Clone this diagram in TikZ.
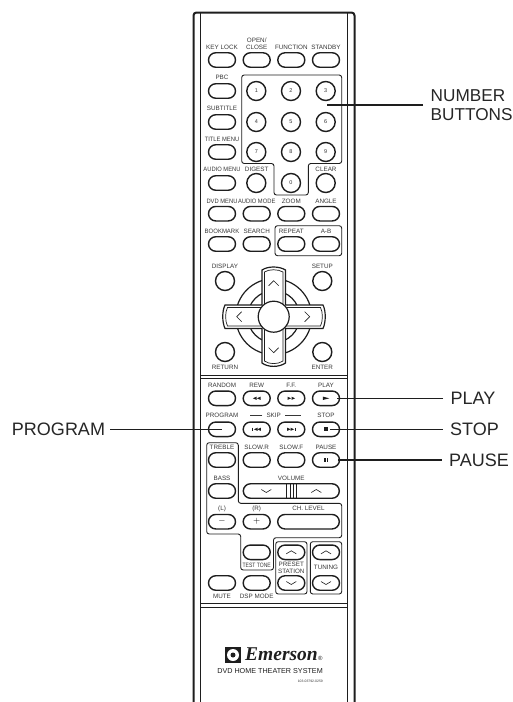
\documentclass[tikz,border=0pt]{standalone}
\usepackage{fontspec}
\setmainfont{Liberation Sans}
\newfontfamily\logofont{Liberation Serif}
\usetikzlibrary{shapes.misc}
\definecolor{InkBody}{RGB}{30,30,30}
\definecolor{InkText}{RGB}{55,55,55}
\newcommand{\trir}[1]{\fill[InkBody] (#1) ++(-1.8,-1.6) -- ++(3.6,1.6) -- ++(-3.6,1.6) -- cycle;}
\newcommand{\tril}[1]{\fill[InkBody] (#1) ++(1.8,-1.6) -- ++(-3.6,1.6) -- ++(3.6,1.6) -- cycle;}

\begin{document}
\begin{tikzpicture}[x=1pt,y=-1pt,
        btn/.style={draw=InkBody, line width=1.4pt, rounded rectangle, minimum width=27pt, minimum height=14.5pt, inner sep=0pt, font=\bfseries\fontsize{9}{9}\selectfont},
        wide/.style={btn, minimum width=#1},
        rnd/.style={draw=InkBody, line width=1.4pt, circle, minimum size=19pt, inner sep=0pt, text=InkText, font=\fontsize{5.5}{6}\selectfont},
        lbl/.style={inner sep=0pt, align=center, text=InkText, font=\fontsize{6.3}{7}\selectfont},
        callout/.style={inner ysep=0pt, inner xsep=7.5pt, anchor=west, align=left, text=black!85, font=\fontsize{18}{19}\selectfont},
        lead/.style={line width=1.25pt, InkBody},
        grp/.style={draw=InkBody, line width=0.9pt, rounded corners=2.5pt},
        chev/.style={line width=0.6pt, InkBody}
    ]
    \useasboundingbox (0,0) rectangle (512,702);
    \fill[white] (0,0) rectangle (512,702);

    % case
    \draw[line width=2pt, InkBody, rounded corners=3pt] (193.5,702) -- (193.5,12.5) -- (354.5,12.5) -- (354.5,702);
    \draw[line width=1.2pt, InkBody, rounded corners=2pt] (200.5,702) -- (200.5,12.5);
    \draw[line width=1.2pt, InkBody, rounded corners=2pt] (347.5,702) -- (347.5,12.5);
    \draw[line width=1pt, InkBody] (200.5,375) -- (347.5,375) (200.5,378.5) -- (347.5,378.5);
    \draw[line width=1pt, InkBody] (200.5,603.5) -- (347.5,603.5) (200.5,607) -- (347.5,607);

    % groups
    \draw[grp] (241.7,75) -- (341.7,75) -- (341.7,163.5) -- (308.3,163.5) -- (308.3,195) -- (274,195) -- (274,163.5) -- (241.7,163.5) -- cycle;
    \draw[grp] (275,225.7) rectangle (341.7,255.7);
    \draw[grp] (206.7,442.7) -- (238.3,442.7) -- (238.3,503.3) -- (341.7,503.3) -- (341.7,537.7) -- (273.5,537.7) -- (273.5,570) -- (240.7,570) -- (240.7,534) -- (206.7,534) -- cycle;
    \draw[grp] (275.7,541.7) rectangle (307,594);
    \draw[grp] (310.3,541.7) rectangle (341.7,594);

    % top block
    \node[btn] (keylock) at (222,60) {};
    \node[btn] (openclose) at (256.7,60) {};
    \node[btn] (function) at (291.3,60) {};
    \node[btn] (standby) at (326,60) {};
    \node[btn] (pbc) at (222,91) {};
    \node[btn] (subtitle) at (222,122) {};
    \node[btn] (titlemenu) at (222,152) {};
    \node[btn] (audiomenu) at (222,183) {};
    \node[btn] (dvdmenu) at (222,213.7) {};
    \node[btn] (audiomode) at (256.7,213.7) {};
    \node[btn] (zoom) at (291.3,213.7) {};
    \node[btn] (angle) at (326,213.7) {};
    \node[btn] (bookmark) at (222,244) {};
    \node[btn] (search) at (256.7,244) {};
    \node[btn] (repeat) at (291.3,244) {};
    \node[btn] (ab) at (326,244) {};

    \node[rnd] (num1) at (256.3,91) {1};
    \node[rnd] (num2) at (291,91) {2};
    \node[rnd] (num3) at (325.7,91) {3};
    \node[rnd] (num4) at (256.3,122) {4};
    \node[rnd] (num5) at (291,122) {5};
    \node[rnd] (num6) at (325.7,122) {6};
    \node[rnd] (num7) at (256.3,152) {7};
    \node[rnd] (num8) at (291,152) {8};
    \node[rnd] (num9) at (325.7,152) {9};
    \node[rnd] (num0) at (291,183) {0};
    \node[rnd] (digest) at (256.3,183) {};
    \node[rnd] (clear) at (325.7,183) {};

    \node[lbl] (tkeylock) at (222,47) {KEY LOCK};
    \node[lbl, anchor=south] (topen) at (256.7,49.7) {OPEN/\\CLOSE};
    \node[lbl] (tfunction) at (291.3,47) {FUNCTION};
    \node[lbl] (tstandby) at (326,47) {STANDBY};
    \node[lbl] (tpbc) at (222,77.7) {PBC};
    \node[lbl] (tsubtitle) at (222,108.3) {SUBTITLE};
    \node[lbl, xscale=0.92] (ttitle) at (222,139.3) {TITLE MENU};
    \node[lbl, xscale=0.92] (taudiomenu) at (222,169) {AUDIO MENU};
    \node[lbl] (tdigest) at (256.7,169) {DIGEST};
    \node[lbl] (tclear) at (326,169) {CLEAR};
    \node[lbl, xscale=0.92] (tdvd) at (222,201) {DVD MENU};
    \node[lbl, xscale=0.92] (taudiomode) at (256.7,201) {AUDIO MODE};
    \node[lbl] (tzoom) at (291.3,201) {ZOOM};
    \node[lbl] (tangle) at (326,201) {ANGLE};
    \node[lbl, xscale=0.95] (tbookmark) at (222,231.3) {BOOKMARK};
    \node[lbl] (tsearch) at (256.7,231.3) {SEARCH};
    \node[lbl] (trepeat) at (291.3,231.3) {REPEAT};
    \node[lbl] (tab) at (326,231.3) {A-B};

    % cursor pad
    \node[rnd] (display) at (225,281) {};
    \node[rnd] (setup) at (322.3,281) {};
    \node[rnd] (return) at (225,352) {};
    \node[rnd] (enter) at (322.3,352) {};
    \node[lbl] (tdisplay) at (225,266.3) {DISPLAY};
    \node[lbl] (tsetup) at (322.3,266.3) {SETUP};
    \node[lbl] (treturn) at (225,367.3) {RETURN};
    \node[lbl] (tenter) at (322.3,367.3) {ENTER};

    \coordinate (hub) at (273.7,316.7);
    \draw[line width=1.2pt, InkBody] (hub) circle (38);
    \draw[line width=1.2pt, InkBody] (hub) circle (26);
    \path[fill=white, draw=InkBody, line width=1.2pt] (262,270) .. controls (268,266) and (279,266) .. (285.5,270) -- (285.5,305) -- (323,305) .. controls (326,311) and (326,322) .. (323,328.5) -- (285.5,328.5) -- (285.5,363) .. controls (279,367.5) and (268,367.5) .. (262,363) -- (262,328.5) -- (225,328.5) .. controls (222,322) and (222,311) .. (225,305) -- (262,305) -- cycle;
    \draw[line width=0.7pt, InkBody] (264.5,272) .. controls (269,269) and (278,269) .. (283,272) -- (283,307.5) -- (320.5,307.5) .. controls (323,312) and (323,321) .. (320.5,326) -- (283,326) -- (283,361) .. controls (278,364.5) and (269,364.5) .. (264.5,361) -- (264.5,326) -- (227.5,326) .. controls (225,321) and (225,312) .. (227.5,307.5) -- (264.5,307.5) -- cycle;
    \node[circle, fill=white, draw=InkBody, line width=1.2pt, minimum size=31pt, inner sep=0pt] (centre) at (hub) {};
    \draw[chev] (hub) ++(-5,-31) -- ++(5,-5) -- ++(5,5);
    \draw[chev] (hub) ++(-5,31) -- ++(5,5) -- ++(5,-5);
    \draw[chev] (hub) ++(-32,-5) -- ++(-5,5) -- ++(5,5);
    \draw[chev] (hub) ++(31,-5) -- ++(5,5) -- ++(-5,5);

    % transport block
    \node[btn] (random) at (222,398.3) {};
    \node[btn] (rew) at (256.7,398.3) {};
    \node[btn] (ff) at (291.3,398.3) {};
    \node[btn] (play) at (326,398.3) {};
    \node[btn] (program) at (222,429.3) {};
    \node[btn] (skipb) at (256.7,429.3) {};
    \node[btn] (skipf) at (291.3,429.3) {};
    \node[btn] (stop) at (326,429.3) {};
    \node[btn] (treble) at (222,460) {};
    \node[btn] (slowr) at (256.7,460) {};
    \node[btn] (slowf) at (291.3,460) {};
    \node[btn] (pause) at (326,460) {};
    \node[btn] (bass) at (222,491) {};
    \node[wide=96pt] (volume) at (291.3,491) {};
    \node[btn] (minus) at (222,521.7) {$-$};
    \node[btn] (plus) at (256.7,521.7) {$+$};
    \node[wide=61.6pt] (chlevel) at (308.5,521.7) {};
    \node[btn] (testtone) at (256.7,552.3) {};
    \node[btn] (presetup) at (291.3,552.3) {};
    \node[btn] (presetdn) at (291.3,583) {};
    \node[btn] (tuneup) at (326,552.3) {};
    \node[btn] (tunedn) at (326,583) {};
    \node[btn] (mute) at (222,583) {};
    \node[btn] (dspmode) at (256.7,583) {};

    \node[lbl] (trandom) at (222,385) {RANDOM};
    \node[lbl] (trew) at (256.7,385) {REW};
    \node[lbl] (tff) at (291.3,385) {F.F.};
    \node[lbl] (tplay) at (326,385) {PLAY};
    \node[lbl] (tprogram) at (222,415.7) {PROGRAM};
    \node[lbl] (tskip) at (273.7,415.7) {SKIP};
    \node[lbl] (tstop) at (326,415.7) {STOP};
    \node[lbl] (ttreble) at (222,447.3) {TREBLE};
    \node[lbl] (tslowr) at (256.7,447.3) {SLOW.R};
    \node[lbl] (tslowf) at (291.3,447.3) {SLOW.F};
    \node[lbl] (tpause) at (326,447.3) {PAUSE};
    \node[lbl] (tbass) at (222,478) {BASS};
    \node[lbl] (tvolume) at (291.3,478) {VOLUME};
    \node[lbl] (tl) at (222,508.7) {(L)};
    \node[lbl] (tr) at (256.7,508.7) {(R)};
    \node[lbl] (tchlevel) at (308.5,508.7) {CH. LEVEL};
    \node[lbl, xscale=0.8] (ttest) at (256.7,565.3) {TEST TONE};
    \node[lbl, font=\fontsize{6.3}{6.9}\selectfont] (tpreset) at (291.3,567.5) {PRESET\\STATION};
    \node[lbl] (ttuning) at (326,567.7) {TUNING};
    \node[lbl] (tmute) at (222,596) {MUTE};
    \node[lbl] (tdsp) at (256.7,596) {DSP MODE};

    \draw[line width=0.6pt, InkText] (tskip.west) ++(-4,0) -- ++(-12,0);
    \draw[line width=0.6pt, InkText] (tskip.east) ++(4,0) -- ++(16,0);

    % glyphs
    \tril{[xshift=-2pt]rew.center} \tril{[xshift=2pt]rew.center}
    \trir{[xshift=-2pt]ff.center} \trir{[xshift=2pt]ff.center}
    \fill[InkBody] (play.center) ++(-3.2,-1.7) -- ++(6.5,1.7) -- ++(-6.5,1.7) -- cycle;
    \tril{[xshift=-1pt]skipb.center} \tril{[xshift=2.4pt]skipb.center}
    \trir{[xshift=-2.4pt]skipf.center} \trir{[xshift=1pt]skipf.center}
    \draw[line width=0.7pt, InkBody] (skipb.center) ++(-4.4,-1.6) -- ++(0,3.2);
    \draw[line width=0.7pt, InkBody] (skipf.center) ++(4.4,-1.6) -- ++(0,3.2);
    \fill[InkBody] (stop.center) ++(-2,-2) rectangle ++(4,4);
    \fill[InkBody] (pause.center) ++(-2.4,-2) rectangle ++(1.9,4);
    \fill[InkBody] (pause.center) ++(0.5,-2) rectangle ++(1.9,4);
    \draw[chev] (presetup.center) ++(-5,1.5) -- ++(5,-3) -- ++(5,3);
    \draw[chev] (tuneup.center) ++(-5,1.5) -- ++(5,-3) -- ++(5,3);
    \draw[chev] (presetdn.center) ++(-5,-1.5) -- ++(5,3) -- ++(5,-3);
    \draw[chev] (tunedn.center) ++(-5,-1.5) -- ++(5,3) -- ++(5,-3);
    \draw[chev] (volume.center) ++(-30,-1.5) -- ++(5,3) -- ++(5,-3);
    \draw[chev] (volume.center) ++(20,1.5) -- ++(5,-3) -- ++(5,3);
    \draw[line width=1pt, InkBody] (286.7,483.5) -- (286.7,498.5) (290.7,483.5) -- (290.7,498.5) (293.3,483.5) -- (293.3,498.5) (296,483.5) -- (296,498.5);

    % brand
    \node[fill=InkBody, minimum size=16pt, inner sep=0pt] (logo) at (233,655) {};
    \node[circle, fill=white, minimum size=12pt, inner sep=0pt] (logoring) at (logo) {};
    \node[circle, fill=InkBody, minimum size=5pt, inner sep=0pt] (logodot) at (logo) {};
    \node[inner sep=0pt, anchor=west, text=InkBody, font=\logofont\bfseries\itshape\fontsize{19.5}{20}\selectfont] (brand) at (245,654.5) {Emerson};
    \node[inner sep=0pt, anchor=west, text=InkBody, font=\fontsize{6}{6}\selectfont] (regmark) at (318,658) {\textregistered};
    \node[inner sep=0pt, anchor=east, text=InkBody, font=\fontsize{7.2}{8}\selectfont] (system) at (323,671) {DVD HOME THEATER SYSTEM};
    \node[inner sep=0pt, anchor=east, text=InkText, font=\fontsize{3.4}{4}\selectfont] (partno) at (323,681.3) {103-03792-0259};

    % callouts
    \coordinate (padend) at (327,105);
    \coordinate (playend) at (337,398.3);
    \coordinate (stopend) at (330,429.3);
    \coordinate (pauseend) at (338,460);
    \coordinate (progend) at (222,429.3);
    \node[callout, font=\fontsize{17.2}{19}\selectfont] (number) at (423,105) {NUMBER\\BUTTONS};
    \node[callout] (cplay) at (443,398.3) {PLAY};
    \node[callout] (cstop) at (442.5,429.3) {STOP};
    \node[callout] (cpause) at (441.5,460) {PAUSE};
    \node[callout, anchor=east, inner xsep=0pt, outer xsep=5pt] (cprogram) at (110,429.3) {PROGRAM};
    \draw[lead] (number.west) -- (padend);
    \draw[lead] (cplay.west) -- (playend);
    \draw[lead] (cstop.west) -- (stopend);
    \draw[lead] (cpause.west) -- (pauseend);
    \draw[lead] (cprogram.east) -- (progend);
\end{tikzpicture}
\end{document}
